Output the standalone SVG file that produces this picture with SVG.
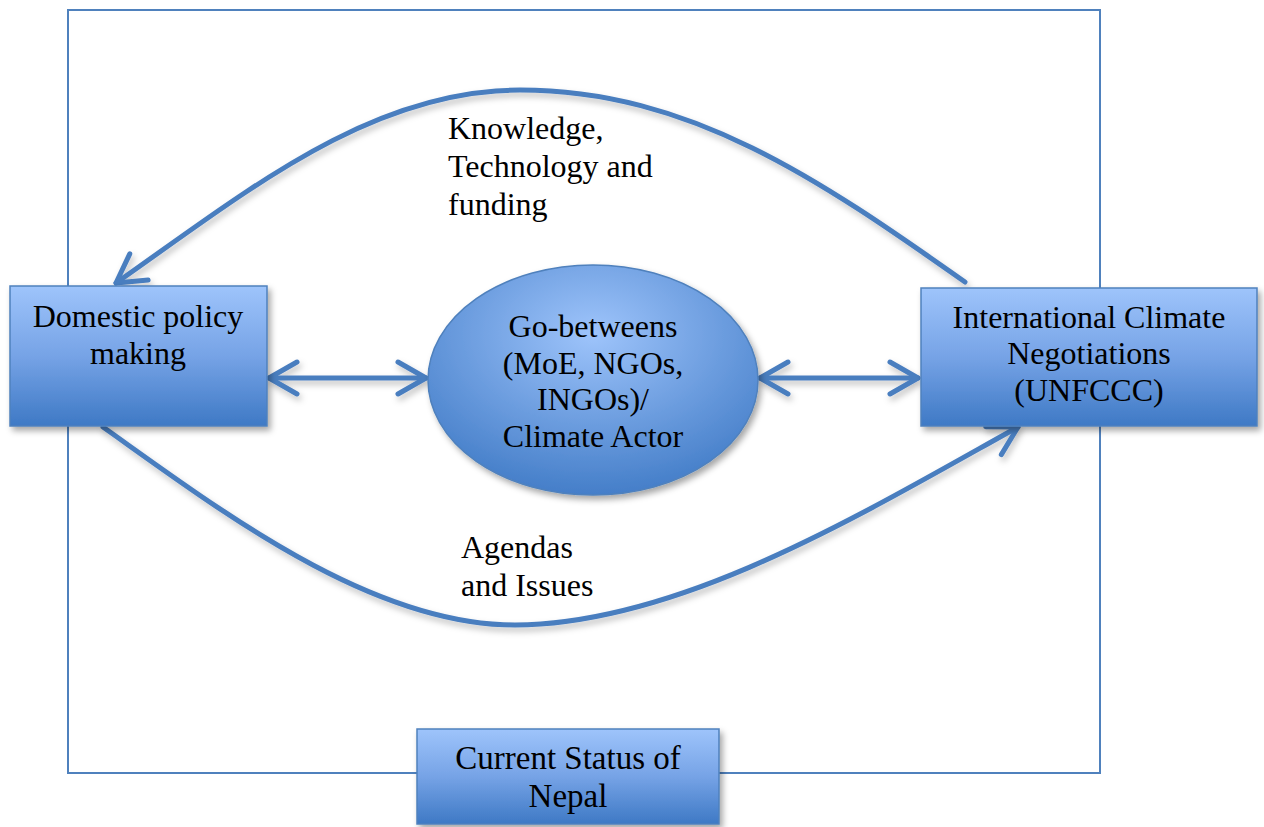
<svg xmlns="http://www.w3.org/2000/svg" width="1264" height="827" viewBox="0 0 1264 827">
  <style>
    .frame { fill: none; stroke: #4f81bd; stroke-width: 2; }
    .box { fill: url(#boxGrad); stroke: #4f81bd; stroke-width: 1.5; filter: url(#shadow); }
    .conn { fill: none; stroke: #4a7ebf; stroke-width: 5; stroke-linecap: round; filter: url(#lineShadow); }
    .label { font-family: "Liberation Serif", "Times New Roman", serif; font-size: 32px; fill: #000; }
    .center { text-anchor: middle; }
    .status { font-family: "Liberation Serif", "Times New Roman", serif; font-size: 33px; fill: #000; text-anchor: middle; }
  </style>
  <defs>
    <linearGradient id="boxGrad" x1="0" y1="0" x2="0" y2="1">
      <stop offset="0" stop-color="#9ec4fb"/>
      <stop offset="0.5" stop-color="#76a3e6"/>
      <stop offset="1" stop-color="#3e79c5"/>
    </linearGradient>
    <radialGradient id="ellGrad" cx="0.5" cy="0.3" r="0.75">
      <stop offset="0" stop-color="#9ec4fb"/>
      <stop offset="1" stop-color="#3e79c5"/>
    </radialGradient>
    <filter id="shadow" x="-10%" y="-10%" width="130%" height="130%">
      <feDropShadow dx="3" dy="4" stdDeviation="3" flood-color="#000" flood-opacity="0.35"/>
    </filter>
    <!-- canvas-sized region so straight horizontal lines keep their shadow -->
    <filter id="lineShadow" filterUnits="userSpaceOnUse" x="0" y="0" width="1264" height="827">
      <feDropShadow dx="2" dy="4" stdDeviation="3" flood-color="#000" flood-opacity="0.25"/>
    </filter>
    <marker id="head" viewBox="-34 -22 40 44" markerWidth="40" markerHeight="44" refX="0" refY="0" orient="auto-start-reverse" markerUnits="userSpaceOnUse">
      <path d="M -28 -16 L 0 0 L -28 16" fill="none" stroke="#4a7ebf" stroke-width="5" stroke-linecap="round" stroke-linejoin="round"/>
    </marker>
  </defs>

  <!-- enclosing frame -->
  <rect class="frame" x="68" y="10" width="1032" height="763"/>

  <!-- connectors -->
  <g id="connectors">
    <path class="conn" d="M 965 282 C 820 180 690 90 520 90 C 370 90 246 192 116 283" marker-end="url(#head)"/>
    <path class="conn" d="M 103 427 C 220 510 370 625 515 625 C 680 624 860 515 1018 427" marker-end="url(#head)"/>
    <path class="conn" d="M 269 378 L 426 378" marker-start="url(#head)" marker-end="url(#head)"/>
    <path class="conn" d="M 760 378 L 918 378" marker-start="url(#head)" marker-end="url(#head)"/>
  </g>

  <!-- connector labels -->
  <g id="label-knowledge">
    <text class="label" x="448" y="139">Knowledge,</text>
    <text class="label" x="448" y="177">Technology and</text>
    <text class="label" x="448" y="215">funding</text>
  </g>
  <g id="label-agendas">
    <text class="label" x="461" y="558">Agendas</text>
    <text class="label" x="461" y="596">and Issues</text>
  </g>

  <!-- nodes -->
  <g id="node-domestic">
    <rect class="box" x="10" y="286" width="257" height="140"/>
    <text class="label center" x="138" y="327">Domestic policy</text>
    <text class="label center" x="138" y="364">making</text>
  </g>

  <g id="node-gobetweens">
    <ellipse cx="593" cy="380" rx="165" ry="115" fill="url(#ellGrad)" stroke="#4f81bd" stroke-width="1.5" filter="url(#shadow)"/>
    <text class="label center" x="593" y="337">Go-betweens</text>
    <text class="label center" x="593" y="374">(MoE, NGOs,</text>
    <text class="label center" x="593" y="410">INGOs)/</text>
    <text class="label center" x="593" y="447">Climate Actor</text>
  </g>

  <g id="node-international">
    <rect class="box" x="921" y="288" width="336" height="138"/>
    <text class="label center" x="1089" y="328">International Climate</text>
    <text class="label center" x="1089" y="364">Negotiations</text>
    <text class="label center" x="1089" y="401">(UNFCCC)</text>
  </g>

  <g id="node-status">
    <rect class="box" x="417" y="729" width="302" height="95"/>
    <text class="status" x="568" y="769">Current Status of</text>
    <text class="status" x="568" y="807">Nepal</text>
  </g>
</svg>
